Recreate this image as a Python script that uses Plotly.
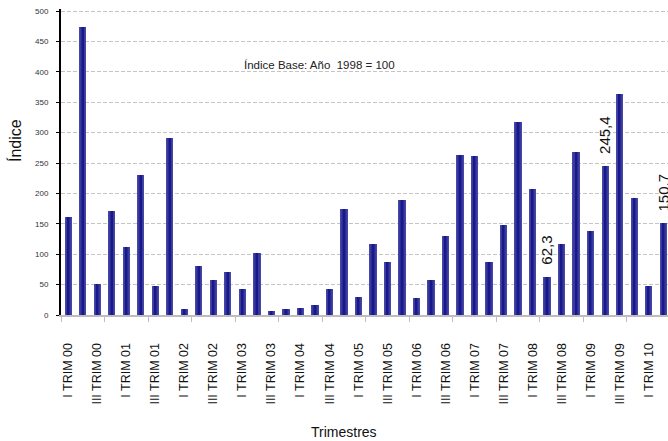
import plotly.graph_objects as go

# ---- data ----
quarters = [f"{q} TRIM {y:02d}" for y in range(0, 11) for q in ["I", "II", "III", "IV"]][:42]
values = [161, 474, 51, 171, 112, 230, 47, 291, 10, 81,
          58, 71, 43, 102, 7, 10, 11.5, 16.5, 43, 174,
          30, 117, 87, 189, 28, 58, 130, 263, 262, 87,
          148, 317.5, 207, 62.3, 117, 268, 138, 245.4, 363.5, 192.5,
          48, 150.7]
label_idx = [33, 37, 41]
tick_labels = quarters[::2]

x = list(range(len(values)))

fig = go.Figure()

# simulated horizontal gradient: overlay progressively narrower, darker bars
layers = [(0.5, "#4646a6"), (0.36, "#3a3a9e"), (0.22, "#2a2a95"), (0.1, "#18188b")]
for w, c in layers:
    fig.add_trace(go.Bar(x=x, y=values, width=w, marker=dict(color=c, line=dict(width=0)),
                         hoverinfo="skip", showlegend=False))

for i in label_idx:
    fig.add_annotation(x=x[i], y=values[i], xref="x", yref="y",
                       text=f"{values[i]:.1f}".replace(".", ","),
                       textangle=-90, showarrow=False, yanchor="bottom", yshift=10,
                       font=dict(family="Liberation Sans, Arial", size=15, color="#111"))

PXX = 14.51          # px per category
PXY = 304 / 500      # px per unit
W, H = 668, 441
L, R = 61, 0
pw = W - L - R
xmax = -0.5 + pw / PXX
y_bottom = 315
T = 9
B = H - y_bottom
ph = H - T - B
ymax = ph / PXY

def px_x(p):
    return (p - L) / pw

def px_y(p):
    return (y_bottom - p) / ph

# white box interrupting the gridline behind the note
fig.add_shape(type="rect", xref="paper", yref="paper",
              x0=px_x(235), x1=px_x(442), y0=px_y(80), y1=px_y(60),
              fillcolor="white", line=dict(width=0), layer="below")
fig.add_annotation(xref="paper", yref="paper", x=px_x(242), y=px_y(65),
                   xanchor="left", yanchor="middle", showarrow=False,
                   text="Índice Base: Año  1998 = 100",
                   font=dict(family="Liberation Sans Narrow, Liberation Sans, Arial", size=11.5, color="#222"))

fig.add_annotation(xref="paper", yref="paper", x=px_x(15), y=px_y(141),
                   textangle=-90, showarrow=False, xanchor="center", yanchor="middle",
                   text="Índice", font=dict(family="Liberation Sans, Arial", size=16, color="#111"))
fig.add_annotation(xref="paper", yref="paper", x=px_x(344), y=px_y(432),
                   showarrow=False, xanchor="center", yanchor="middle",
                   text="Trimestres", font=dict(family="Liberation Sans, Arial", size=14, color="#111"))

fig.update_layout(
    width=W, height=H,
    margin=dict(l=L, r=R, t=T, b=B, pad=0, autoexpand=False),
    paper_bgcolor="white", plot_bgcolor="white",
    barmode="overlay", bargap=0,
    showlegend=False,
    xaxis=dict(
        automargin=False,
        range=[-0.5, xmax],
        tickmode="array", tickvals=x[::2], ticktext=tick_labels,
        tickangle=-90, ticks="", ticklabelstandoff=21, ticklabeloverflow="allow",
        tickfont=dict(family="Liberation Sans, Arial", size=12.5, color="#111"),
        showline=True, linecolor="#bdbdbd", linewidth=2,
        showgrid=False, zeroline=False,
        minor=dict(tickmode="array", tickvals=[v - 0.5 for v in x[::3]],
                   ticks="outside", ticklen=5, tickcolor="#bdbdbd", tickwidth=1, showgrid=False),
    ),
    yaxis=dict(
        automargin=False,
        range=[0, ymax], tickmode="linear", tick0=0, dtick=50,
        ticks="outside", ticklen=3, tickcolor="#000", tickwidth=1,
        tickfont=dict(family="Liberation Sans Narrow, Liberation Sans, Arial", size=8, color="#333"),
        ticklabelstandoff=6, ticklabeloverflow="allow",
        showline=True, linecolor="#000", linewidth=2,
        showgrid=True, gridcolor="#c4c4c4", gridwidth=1, griddash="4px,2px",
        zeroline=False,
    ),
)

fig.write_html(
    "out.html",
    config={"displayModeBar": False},
    post_script="document.body.style.margin='0';document.body.style.overflow='hidden';",
)
